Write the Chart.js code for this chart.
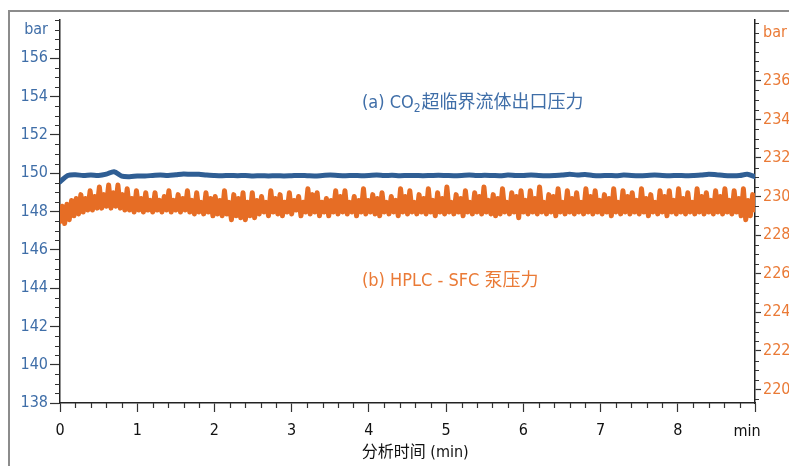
<!DOCTYPE html>
<html>
<head>
<meta charset="utf-8">
<script src="https://cdn.jsdelivr.net/npm/chart.js@4.4.1/dist/chart.umd.min.js"></script>
<style>
  html, body { margin: 0; padding: 0; background: #fff; }
  canvas { display: block; }
</style>
</head>
<body>
<canvas id="chart" width="789" height="466"></canvas>
<script>
const FONT = '"DejaVu Sans Condensed", "Noto Sans CJK SC", sans-serif';

// axis labels
const xMajor = [0, 1, 2, 3, 4, 5, 6, 7, 8, 9];
const xMajorLabels = ['0', '1', '2', '3', '4', '5', '6', '7', '8', ''];
const xUnit = 'min';
const xTitle = '分析时间 (min)';
const leftMajor = [138, 140, 142, 144, 146, 148, 150, 152, 154, 156];
const rightMajor = [220, 222, 224, 226, 228, 230, 232, 234, 236];
const unitLabel = 'bar';

// (a) CO2 outlet pressure, left axis, one reading every 0.1 min
const co2Step = 0.1;
const co2Pressure = [
  149.55, 149.88, 149.92, 149.88, 149.90, 149.88, 149.95, 150.08, 149.85, 149.82,
  149.85, 149.86, 149.88, 149.90, 149.88, 149.92, 149.96, 149.94, 149.95, 149.90,
  149.88, 149.87, 149.88, 149.87, 149.88, 149.86, 149.87, 149.86, 149.87, 149.86,
  149.87, 149.88, 149.87, 149.86, 149.88, 149.90, 149.88, 149.87, 149.88, 149.87,
  149.88, 149.90, 149.88, 149.89, 149.87, 149.88, 149.88, 149.87, 149.88, 149.89,
  149.88, 149.87, 149.88, 149.90, 149.88, 149.89, 149.88, 149.87, 149.90, 149.88,
  149.88, 149.90, 149.88, 149.87, 149.88, 149.90, 149.95, 149.90, 149.93, 149.88,
  149.87, 149.88, 149.87, 149.90, 149.88, 149.87, 149.88, 149.90, 149.88, 149.87,
  149.88, 149.87, 149.88, 149.90, 149.95, 149.92, 149.88, 149.87, 149.88, 149.94,
  149.82
];

// (b) HPLC-SFC pump pressure, right axis, one reading every 0.03 min
const pumpStep = 0.03;
const pumpPressure = [
  228.7, 229.5, 228.6, 229.6, 228.8, 229.8, 229.0, 229.9, 229.1, 230.1,
  229.2, 229.9, 229.3, 230.3, 229.3, 230.0, 229.4, 230.5, 229.4, 230.1,
  229.5, 230.6, 229.4, 230.2, 229.5, 230.6, 229.4, 230.1, 229.3, 230.4,
  229.3, 229.9, 229.2, 230.3, 229.3, 229.9, 229.2, 230.2, 229.3, 229.8,
  229.2, 230.2, 229.3, 229.8, 229.2, 230.0, 229.3, 230.3, 229.2, 229.8,
  229.3, 230.1, 229.2, 229.9, 229.3, 230.3, 229.2, 229.8, 229.1, 230.2,
  229.2, 229.7, 229.1, 230.2, 229.2, 229.9, 229.0, 230.0, 229.1, 229.8,
  229.0, 230.3, 229.1, 229.7, 228.8, 230.1, 229.0, 229.9, 228.9, 230.2,
  228.8, 229.7, 229.0, 230.2, 228.9, 229.8, 229.1, 230.0, 229.2, 229.7,
  229.0, 230.3, 229.2, 229.9, 229.1, 230.1, 229.0, 229.7, 229.2, 230.2,
  229.1, 229.8, 229.3, 230.0, 229.0, 229.7, 229.2, 230.4, 229.1, 230.1,
  229.2, 230.2, 229.0, 229.7, 229.2, 229.9, 229.0, 229.8, 229.2, 230.3,
  229.1, 230.0, 229.2, 230.3, 229.1, 229.7, 229.2, 230.0, 229.0, 229.8,
  229.2, 230.4, 229.1, 229.8, 229.2, 230.1, 229.1, 229.9, 229.0, 230.2,
  229.2, 229.7, 229.1, 230.0, 229.2, 229.8, 229.0, 230.4, 229.2, 230.0,
  229.1, 230.3, 229.2, 229.7, 229.1, 230.1, 229.2, 229.9, 229.1, 230.4,
  229.2, 229.8, 229.0, 230.2, 229.2, 229.9, 229.1, 230.5, 229.2, 229.7,
  229.1, 230.1, 229.2, 229.9, 229.0, 230.3, 229.2, 229.7, 229.1, 230.2,
  229.2, 230.0, 229.1, 230.5, 229.2, 229.8, 229.1, 230.1, 229.0, 229.9,
  229.1, 230.4, 229.2, 229.7, 229.1, 230.2, 229.2, 230.0, 228.9, 230.3,
  229.2, 229.8, 229.1, 230.3, 229.2, 229.9, 229.1, 230.5, 229.2, 229.7,
  229.1, 230.1, 229.2, 230.0, 229.0, 230.4, 229.2, 229.7, 229.1, 230.3,
  229.2, 229.9, 229.1, 230.2, 229.2, 229.7, 229.1, 230.4, 229.2, 230.0,
  229.1, 230.3, 229.2, 229.8, 229.1, 230.1, 229.2, 229.9, 229.0, 230.4,
  229.2, 229.7, 229.1, 230.3, 229.2, 230.0, 229.1, 230.2, 229.2, 229.8,
  229.1, 230.4, 229.2, 229.9, 229.0, 230.1, 229.2, 229.7, 229.1, 230.3,
  229.2, 230.0, 229.0, 230.3, 229.2, 229.8, 229.1, 230.4, 229.2, 229.9,
  229.1, 230.2, 229.2, 229.7, 229.1, 230.4, 229.2, 230.0, 229.1, 230.2,
  229.2, 229.8, 229.1, 230.3, 229.2, 230.0, 229.1, 230.4, 229.2, 229.8,
  229.1, 230.3, 229.2, 229.9, 229.0, 230.4, 228.8, 229.8, 229.0, 230.1,
  229.3
];

const labelA = { text: '(a) CO', sub: '2', rest: '超临界流体出口压力' };
const labelB = '(b) HPLC - SFC 泵压力';

const BLUE = '#2f5e94';
const BLUE_TEXT = '#3f6ea8';
const ORANGE = '#e66d25';
const ORANGE_TEXT = '#ea7a36';

const co2Points = co2Pressure.map((v, i) => ({ x: +(i * co2Step).toFixed(2), y: v }));
const pumpPoints = pumpPressure.map((v, i) => ({ x: +(i * pumpStep).toFixed(2), y: v }));

function stepTicks(from, to, step) {
  const out = [];
  for (let v = from; v <= to + 1e-9; v += step) out.push({ value: +v.toFixed(2) });
  return out;
}
const isIn = (arr, v) => arr.some(a => Math.abs(a - v) < 1e-6);

// short (minor) ticks, plus frame, unit and annotation text
const decor = {
  id: 'decor',
  beforeDraw(chart) {
    const ctx = chart.ctx;
    ctx.save();
    ctx.strokeStyle = '#8c8c8c';
    ctx.lineWidth = 2;
    ctx.beginPath();
    ctx.moveTo(9, 466);
    ctx.lineTo(9, 11);
    ctx.lineTo(789, 11);
    ctx.stroke();
    ctx.restore();
  },
  afterDraw(chart) {
    const ctx = chart.ctx;
    const { x, y, y2 } = chart.scales;
    const area = chart.chartArea;
    ctx.save();
    ctx.strokeStyle = '#333';
    ctx.lineWidth = 1.2;
    ctx.beginPath();
    x.ticks.forEach(t => {
      if (isIn(xMajor, t.value)) return;
      const px = Math.round(x.getPixelForValue(t.value)) + 0.5;
      ctx.moveTo(px, area.bottom);
      ctx.lineTo(px, area.bottom + 5);
    });
    y.ticks.forEach(t => {
      if (isIn(leftMajor, t.value)) return;
      const py = Math.round(y.getPixelForValue(t.value)) + 0.5;
      ctx.moveTo(area.left, py);
      ctx.lineTo(area.left - 5, py);
    });
    y2.ticks.forEach(t => {
      if (isIn(rightMajor, t.value)) return;
      const py = Math.round(y2.getPixelForValue(t.value)) + 0.5;
      ctx.moveTo(area.right, py);
      ctx.lineTo(area.right + 4, py);
    });
    ctx.stroke();

    ctx.fillStyle = '#111';
    ctx.textBaseline = 'middle';
    ctx.font = '16px ' + FONT;
    ctx.textAlign = 'center';
    ctx.fillText(xUnit, x.getPixelForValue(9) - 8, area.bottom + 29);
    ctx.fillText(xTitle, x.getPixelForValue(4.6), area.bottom + 50);

    ctx.textAlign = 'left';
    ctx.font = '18px ' + FONT;
    let ax = x.getPixelForValue(3.91);
    const ay = y.getPixelForValue(153.65);
    ctx.fillStyle = BLUE_TEXT;
    ctx.fillText(labelA.text, ax, ay);
    ax += ctx.measureText(labelA.text).width;
    ctx.font = '12px ' + FONT;
    ctx.fillText(labelA.sub, ax, ay + 6);
    ax += ctx.measureText(labelA.sub).width + 1;
    ctx.font = '18px ' + FONT;
    ctx.fillText(labelA.rest, ax, ay);

    ctx.fillStyle = ORANGE_TEXT;
    ctx.fillText(labelB, x.getPixelForValue(3.91), y.getPixelForValue(144.35));
    ctx.restore();
  }
};

new Chart(document.getElementById('chart'), {
  type: 'line',
  data: {
    datasets: [
      {
        label: 'HPLC - SFC',
        data: pumpPoints,
        yAxisID: 'y2',
        borderColor: ORANGE,
        borderWidth: 5,
        pointRadius: 0,
        tension: 0,
        borderJoinStyle: 'round',
        borderCapStyle: 'round'
      },
      {
        label: 'CO2',
        data: co2Points,
        yAxisID: 'y',
        borderColor: BLUE,
        borderWidth: 5,
        pointRadius: 0,
        tension: 0.3,
        borderJoinStyle: 'round',
        borderCapStyle: 'round'
      }
    ]
  },
  options: {
    responsive: false,
    animation: false,
    layout: { padding: { top: 20, left: 0, right: 0, bottom: 0 } },
    plugins: {
      legend: { display: false },
      tooltip: { enabled: false }
    },
    scales: {
      x: {
        type: 'linear',
        min: 0,
        max: 9,
        afterBuildTicks: s => { s.ticks = stepTicks(0, 9, 0.2); },
        afterFit: s => { s.height = 63; },
        border: { display: true, color: '#222', width: 1.5 },
        grid: {
          drawOnChartArea: false,
          tickLength: 9,
          tickWidth: 1.2,
          tickColor: c => (c.tick && isIn(xMajor, c.tick.value)) ? '#333' : 'rgba(0,0,0,0)'
        },
        ticks: {
          autoSkip: false,
          maxRotation: 0,
          minRotation: 0,
          padding: 9,
          color: '#111',
          font: { family: FONT, size: 16 },
          callback: v => {
            const i = xMajor.findIndex(a => Math.abs(a - v) < 1e-6);
            return i >= 0 ? xMajorLabels[i] : '';
          }
        }
      },
      y: {
        position: 'left',
        min: 138,
        max: 158,
        afterBuildTicks: s => { s.ticks = stepTicks(138, 158, 0.5); },
        afterFit: s => { s.width = 60; },
        border: { display: true, color: '#222', width: 1.5 },
        grid: {
          drawOnChartArea: false,
          tickLength: 10,
          tickWidth: 1.2,
          tickColor: c => (c.tick && isIn(leftMajor, c.tick.value)) ? '#333' : 'rgba(0,0,0,0)'
        },
        ticks: {
          autoSkip: false,
          padding: 2,
          color: BLUE_TEXT,
          font: { family: FONT, size: 16 },
          callback: v => v === 157.5 ? unitLabel : (isIn(leftMajor, v) ? String(v) : '')
        }
      },
      y2: {
        position: 'right',
        min: 219.3,
        max: 239.15,
        afterBuildTicks: s => { s.ticks = stepTicks(219.5, 239, 0.5); },
        afterFit: s => { s.width = 34; },
        border: { display: true, color: '#222', width: 1.5 },
        grid: {
          drawOnChartArea: false,
          tickLength: 6,
          tickWidth: 1.2,
          tickColor: c => (c.tick && isIn(rightMajor, c.tick.value)) ? '#333' : 'rgba(0,0,0,0)'
        },
        ticks: {
          autoSkip: false,
          padding: 2,
          color: ORANGE_TEXT,
          font: { family: FONT, size: 16 },
          callback: v => v === 238.5 ? unitLabel : (isIn(rightMajor, v) ? String(v) : '')
        }
      }
    }
  },
  plugins: [decor]
});
</script>
</body>
</html>
